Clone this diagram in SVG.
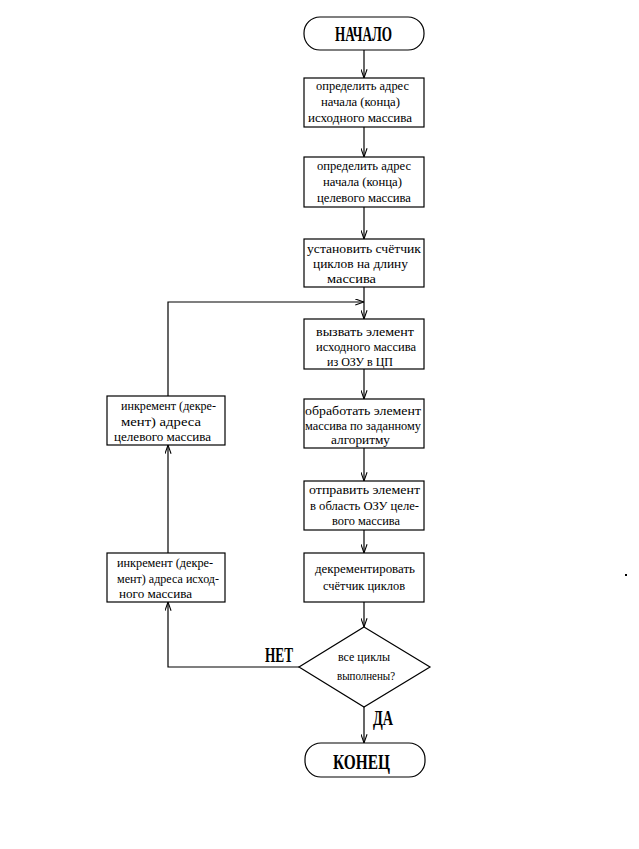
<svg xmlns="http://www.w3.org/2000/svg" width="639" height="849" viewBox="0 0 639 849">
<style>
.bx{fill:#fff;stroke:#000;stroke-width:1.2}
.t{font-family:"Liberation Serif","DejaVu Serif",serif;font-size:13.5px;fill:#000}
.h{font-family:"Liberation Serif","DejaVu Serif",serif;font-size:20px;font-weight:bold;fill:#000}
.c{fill:none;stroke:#000;stroke-width:1.2}
</style>
<defs>
<marker id="arr" viewBox="0 0 10 8" refX="10" refY="4" markerWidth="9" markerHeight="7" markerUnits="userSpaceOnUse" orient="auto">
<path d="M0,0.5 L10,4 L0,7.5" fill="none" stroke="#000" stroke-width="1.2"/>
</marker>
</defs>
<rect width="639" height="849" fill="#fff"/>
<g id="connectors">
<line class="c" x1="364" y1="50" x2="364" y2="78" marker-end="url(#arr)"/>
<line class="c" x1="364" y1="127" x2="364" y2="157" marker-end="url(#arr)"/>
<line class="c" x1="364" y1="207" x2="364" y2="239" marker-end="url(#arr)"/>
<line class="c" x1="364" y1="287" x2="364" y2="319" marker-end="url(#arr)"/>
<line class="c" x1="364" y1="369" x2="364" y2="399" marker-end="url(#arr)"/>
<line class="c" x1="364" y1="448" x2="364" y2="481" marker-end="url(#arr)"/>
<line class="c" x1="364" y1="530" x2="364" y2="553" marker-end="url(#arr)"/>
<line class="c" x1="364" y1="602" x2="364" y2="627" marker-end="url(#arr)"/>
<line class="c" x1="364" y1="707" x2="364" y2="743" marker-end="url(#arr)"/>
<polyline class="c" points="299,667 168,667 168,602" marker-end="url(#arr)"/>
<line class="c" x1="168" y1="553" x2="168" y2="445" marker-end="url(#arr)"/>
<polyline class="c" points="168,396 168,302 364,302" marker-end="url(#arr)"/>
<text class="h" x="265" y="662" textLength="28" lengthAdjust="spacingAndGlyphs">НЕТ</text>
<text class="h" x="373" y="725" textLength="20" lengthAdjust="spacingAndGlyphs">ДА</text>
</g>
<g id="start">
<rect class="bx" x="304" y="17" width="120" height="33" rx="16"/>
<text class="h" x="335" y="41" textLength="57" lengthAdjust="spacingAndGlyphs">НАЧАЛО</text>
</g>
<g id="box1">
<rect class="bx" x="304" y="78" width="120" height="49"/>
<text class="t" x="316" y="90" textLength="93" lengthAdjust="spacingAndGlyphs">определить адрес</text>
<text class="t" x="321" y="106" textLength="79" lengthAdjust="spacingAndGlyphs">начала (конца)</text>
<text class="t" x="308" y="122" textLength="104" lengthAdjust="spacingAndGlyphs">исходного  массива</text>
</g>
<g id="box2">
<rect class="bx" x="304" y="157" width="120" height="50"/>
<text class="t" x="317" y="170" textLength="94" lengthAdjust="spacingAndGlyphs">определить адрес</text>
<text class="t" x="323" y="186" textLength="79" lengthAdjust="spacingAndGlyphs">начала (конца)</text>
<text class="t" x="317" y="202" textLength="94" lengthAdjust="spacingAndGlyphs">целевого массива</text>
</g>
<g id="box3">
<rect class="bx" x="304" y="239" width="120" height="48"/>
<text class="t" x="307" y="253" textLength="114" lengthAdjust="spacingAndGlyphs">установить счётчик</text>
<text class="t" x="313" y="268" textLength="95" lengthAdjust="spacingAndGlyphs">циклов на длину</text>
<text class="t" x="327" y="283" textLength="49" lengthAdjust="spacingAndGlyphs">массива</text>
</g>
<g id="box4">
<rect class="bx" x="304" y="319" width="120" height="50"/>
<text class="t" x="316" y="336" textLength="98" lengthAdjust="spacingAndGlyphs">вызвать элемент</text>
<text class="t" x="316" y="351" textLength="100" lengthAdjust="spacingAndGlyphs">исходного массива</text>
<text class="t" x="327" y="366" textLength="66" lengthAdjust="spacingAndGlyphs">из ОЗУ в ЦП</text>
</g>
<g id="box5">
<rect class="bx" x="304" y="399" width="120" height="49"/>
<text class="t" x="305" y="415" textLength="116" lengthAdjust="spacingAndGlyphs">обработать элемент</text>
<text class="t" x="305" y="430" textLength="116" lengthAdjust="spacingAndGlyphs">массива по заданному</text>
<text class="t" x="331" y="444" textLength="59" lengthAdjust="spacingAndGlyphs">алгоритму</text>
</g>
<g id="box6">
<rect class="bx" x="304" y="481" width="120" height="49"/>
<text class="t" x="309" y="494" textLength="111" lengthAdjust="spacingAndGlyphs">отправить элемент</text>
<text class="t" x="310" y="510" textLength="109" lengthAdjust="spacingAndGlyphs">в область ОЗУ целе-</text>
<text class="t" x="332" y="525" textLength="68" lengthAdjust="spacingAndGlyphs">вого массива</text>
</g>
<g id="box7">
<rect class="bx" x="304" y="553" width="120" height="49"/>
<text class="t" x="315" y="573" textLength="100" lengthAdjust="spacingAndGlyphs">декрементировать</text>
<text class="t" x="323" y="590" textLength="82" lengthAdjust="spacingAndGlyphs">счётчик циклов</text>
</g>
<g id="decision">
<polygon class="bx" points="364,627 430,667 364,707 299,667"/>
<text class="t" x="338" y="661" textLength="52" lengthAdjust="spacingAndGlyphs">все циклы</text>
<text class="t" x="337" y="680" textLength="58" lengthAdjust="spacingAndGlyphs">выполнены?</text>
</g>
<g id="end">
<rect class="bx" x="305" y="743" width="120" height="34" rx="16"/>
<text class="h" x="333" y="769" textLength="57" lengthAdjust="spacingAndGlyphs">КОНЕЦ</text>
</g>
<g id="incTarget">
<rect class="bx" x="107" y="396" width="118" height="49"/>
<text class="t" x="121" y="410" textLength="95" lengthAdjust="spacingAndGlyphs">инкремент (декре-</text>
<text class="t" x="121" y="426" textLength="80" lengthAdjust="spacingAndGlyphs">мент) адреса</text>
<text class="t" x="114" y="441" textLength="97" lengthAdjust="spacingAndGlyphs">целевого массива</text>
</g>
<g id="incSource">
<rect class="bx" x="107" y="553" width="118" height="49"/>
<text class="t" x="117" y="567" textLength="96" lengthAdjust="spacingAndGlyphs">инкремент (декре-</text>
<text class="t" x="117" y="583" textLength="102" lengthAdjust="spacingAndGlyphs">мент) адреса исход-</text>
<text class="t" x="119" y="598" textLength="73" lengthAdjust="spacingAndGlyphs">ного массива</text>
</g>
<rect x="625" y="574" width="2" height="2" fill="#000"/>
</svg>
